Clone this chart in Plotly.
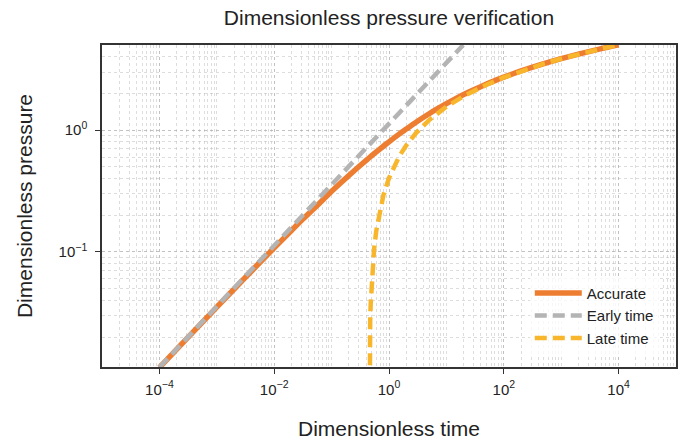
import plotly.graph_objects as go

# Dimensionless time / pressure values
acc_t = [1e-4, 3e-4, 1e-3, 3e-3, 5e-3, 1e-2, 2e-2, 3e-2, 5e-2, 0.07, 0.1, 0.15, 0.2, 0.3, 0.4, 0.5, 0.7, 1, 1.5, 2, 3, 5, 7, 10, 15, 20, 30, 50, 70, 100, 200, 500, 1000, 2000, 5000, 1e4]
acc_p = [0.01123, 0.01939, 0.0352, 0.0603, 0.0773, 0.1079, 0.1500, 0.1817, 0.2284, 0.2665, 0.3144, 0.3750, 0.4241, 0.5024, 0.5645, 0.6167, 0.7024, 0.8019, 0.9270, 1.0195, 1.1665, 1.3625, 1.4988, 1.6509, 1.8284, 1.9601, 2.1470, 2.3884, 2.5495, 2.7233, 3.0636, 3.5164, 3.8584, 4.2056, 4.6631, 5.0097]

early_t = [1e-4, 1e-3, 1e-2, 1e-1, 1, 10, 19.6]
early_p = [0.01128, 0.03568, 0.1128, 0.3568, 1.128, 3.568, 4.995]

late_t = [0.445, 0.45, 0.46, 0.47, 0.48, 0.5, 0.55, 0.6, 0.7, 0.8, 1, 1.5, 2, 3, 5, 10, 20, 50, 100, 200, 500, 1000, 2000, 5000, 1e4]
late_p = [0.0001, 0.0053, 0.0163, 0.027, 0.0375, 0.058, 0.1056, 0.149, 0.226, 0.293, 0.4045, 0.607, 0.751, 0.954, 1.209, 1.556, 1.902, 2.36, 2.707, 3.054, 3.512, 3.858, 4.205, 4.663, 5.009]

x_major = [1e-4, 1e-2, 1, 1e2, 1e4]
x_labels = ["10<sup>\u22124</sup>", "10<sup>\u22122</sup>", "10<sup>0</sup>", "10<sup>2</sup>", "10<sup>4</sup>"]
y_major = [0.1, 1]
y_labels = ["10<sup>\u22121</sup>", "10<sup>0</sup>"]

x_minor = [m * 10 ** k for k in range(-5, 5) for m in range(1, 10)] + [1e5]
y_minor = [m * 10 ** k for k in range(-2, 1) for m in range(1, 10)]

fig = go.Figure()
fig.add_trace(go.Scatter(x=acc_t, y=acc_p, mode="lines", name="Accurate",
                         line=dict(color="#ED7D31", width=5.5, shape="spline", smoothing=0.6)))
fig.add_trace(go.Scatter(x=early_t, y=early_p, mode="lines", name="Early time",
                         line=dict(color="#B4B4B4", width=4.5, dash="12px,6px")))
fig.add_trace(go.Scatter(x=late_t, y=late_p, mode="lines", name="Late time",
                         line=dict(color="#F8B62D", width=4.5, dash="12px,6px")))

font = "Liberation Sans, Arial, sans-serif"
grid_col = "rgba(170,170,170,0.55)"

fig.update_layout(
    width=683, height=440,
    margin=dict(l=102, r=7, t=45, b=73),
    paper_bgcolor="white", plot_bgcolor="white",
    font=dict(family=font, color="#222222"),
    title=dict(text="Dimensionless pressure verification", x=0.5, xanchor="center",
               xref="paper", y=0.96, yanchor="middle", font=dict(size=21, color="#222222")),
    showlegend=True,
    legend=dict(x=0.97, y=0.038, xanchor="right", yanchor="bottom",
                bgcolor="rgba(255,255,255,0.75)", borderwidth=0, itemwidth=47,
                font=dict(size=15, color="#222222"), tracegroupgap=0),
)

fig.update_xaxes(
    type="log", range=[-5, 5], automargin=False,
    tickmode="array", tickvals=x_major, ticktext=x_labels, ticklabelstandoff=3,
    ticks="outside", ticklen=5, tickwidth=1.2, tickcolor="#333333",
    tickfont=dict(size=15, color="#222222"),
    showline=True, linecolor="#333333", linewidth=1.5, mirror=True,
    showgrid=True, gridcolor=grid_col, griddash="dot", gridwidth=1,
    minor=dict(tickmode="array", tickvals=x_minor, showgrid=True,
               gridcolor="rgba(180,180,180,0.45)", griddash="dot", gridwidth=1, ticks=""),
    title=dict(text="Dimensionless time", font=dict(size=21, color="#222222"), standoff=25),
    zeroline=False,
)
fig.update_yaxes(
    type="log", range=[-1.945, 0.699], automargin=False,
    tickmode="array", tickvals=y_major, ticktext=y_labels, ticklabelstandoff=5,
    ticks="outside", ticklen=5, tickwidth=1.2, tickcolor="#333333",
    tickfont=dict(size=15, color="#222222"),
    showline=True, linecolor="#333333", linewidth=1.5, mirror=True,
    showgrid=True, gridcolor=grid_col, griddash="dot", gridwidth=1,
    minor=dict(tickmode="array", tickvals=y_minor, showgrid=True,
               gridcolor="rgba(180,180,180,0.45)", griddash="dot", gridwidth=1, ticks=""),
    title=dict(text="Dimensionless pressure", font=dict(size=21, color="#222222"), standoff=20),
    zeroline=False,
)

fig.write_html("out.html", config={"displayModeBar": False},
               post_script="document.body.style.margin='0';document.body.style.overflow='hidden';")
